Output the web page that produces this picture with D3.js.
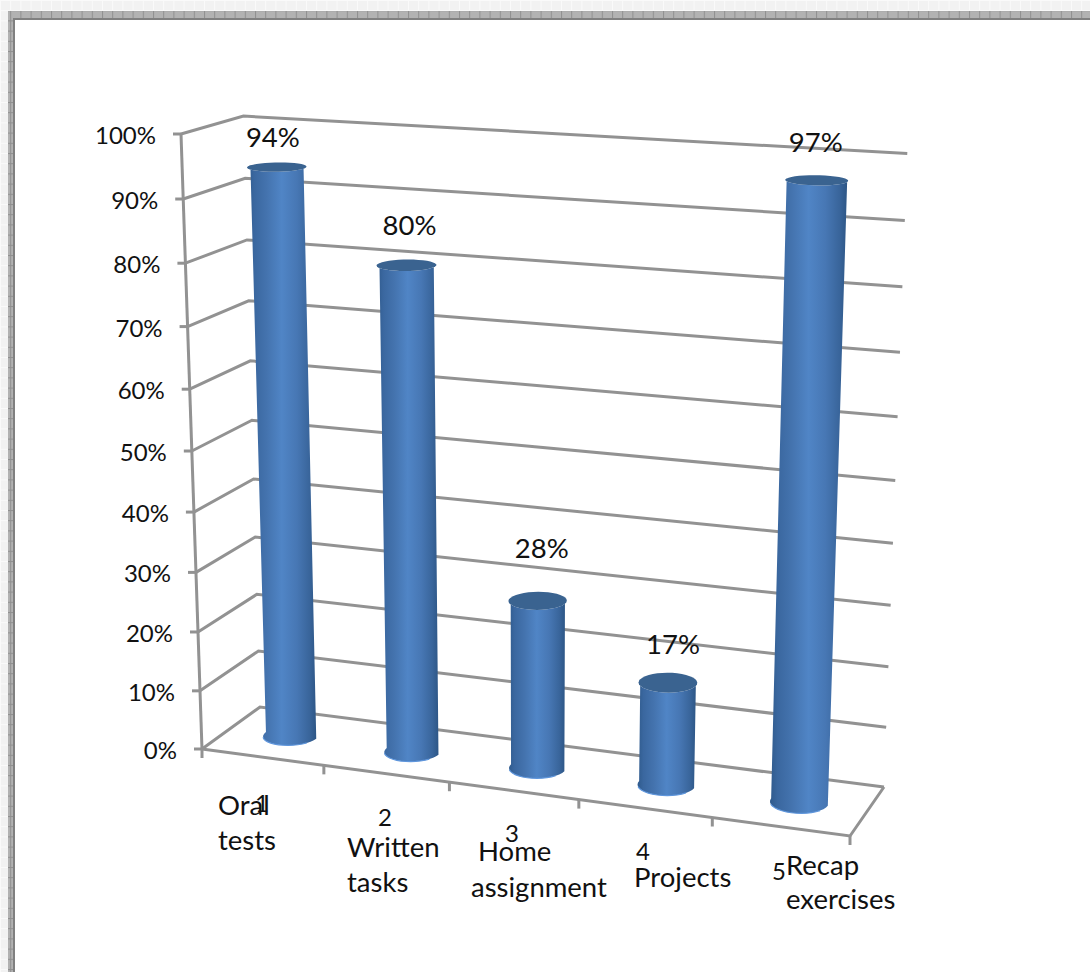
<!DOCTYPE html>
<html>
<head>
<meta charset="utf-8">
<script src="https://cdn.jsdelivr.net/npm/d3@7"></script>
<style>
  html, body { margin: 0; padding: 0; background: #fff; }
  svg { display: block; }
  text { font-family: Lato, "Open Sans", sans-serif; fill: #111; }
</style>
</head>
<body>
<div id="chart"></div>
<script>
const categoryNumbers = ["1", "2", "3", "4", "5"];
const seriesValues = [94, 80, 28, 17, 97];
const yTicks = [0, 10, 20, 30, 40, 50, 60, 70, 80, 90, 100];
const categoryNames = [["Oral", "tests"], ["Written", "tasks"], ["Home", "assignment"], ["Projects"], ["Recap", "exercises"]];

// hand placed text, these were loose text boxes in the original
const valueLabelOffsets = [[-4, -30], [3, -40], [4, -53], [5, -39], [-1, -38]];
const numberSpots = [[262, 812], [385, 826], [512, 842], [643, 860], [779, 880]];
const nameSpots = [
  [[218, 815], [218, 850]],
  [[347, 857], [347, 892]],
  [[478, 861], [471, 897]],
  [[634, 887]],
  [[786, 875], [786, 909]]
];

const width = 1090, height = 972;

const svg = d3.select("#chart").append("svg")
    .attr("width", width)
    .attr("height", height);

// frame around the page
const defs = svg.append("defs");
const hatch = defs.append("pattern")
    .attr("id", "hatch").attr("patternUnits", "userSpaceOnUse")
    .attr("width", 10.2).attr("height", 10.2);
hatch.append("rect").attr("width", 10.2).attr("height", 10.2).attr("fill", "#b2b2b2");
hatch.append("rect").attr("width", 1).attr("height", 10.2).attr("fill", "#909090");
hatch.append("rect").attr("width", 10.2).attr("height", 1).attr("fill", "#909090");

const paper = defs.append("pattern")
    .attr("id", "paper").attr("patternUnits", "userSpaceOnUse")
    .attr("width", 10.2).attr("height", 10.2);
paper.append("rect").attr("width", 10.2).attr("height", 10.2).attr("fill", "#f2f2f2");
paper.append("rect").attr("width", 1).attr("height", 10.2).attr("fill", "#fafafa");
paper.append("rect").attr("width", 10.2).attr("height", 1).attr("fill", "#fafafa");

svg.append("rect").attr("width", width).attr("height", height).attr("fill", "url(#paper)");
svg.append("rect").attr("x", 8).attr("y", 11).attr("width", width - 8).attr("height", 8).attr("fill", "url(#hatch)");
svg.append("rect").attr("x", 8).attr("y", 11).attr("width", 5).attr("height", height - 11).attr("fill", "url(#hatch)");
svg.append("rect").attr("x", 13).attr("y", 18).attr("width", width - 13).attr("height", 2).attr("fill", "#808080");
svg.append("rect").attr("x", 13).attr("y", 18).attr("width", 2).attr("height", height - 18).attr("fill", "#808080");
svg.append("rect").attr("x", 15).attr("y", 20).attr("width", width - 15).attr("height", height - 20).attr("fill", "#fff");

// scales work in the unit box, project() takes them to the page
const xScale = d3.scaleBand().domain(categoryNumbers).range([0, 1]);
const yScale = d3.scaleLinear().domain([0, 100]).range([0, 1]);

const front = { o: [202, 749], x: [850, 836], y: [260, 707], z: [181, 134] };
const persp = { p: -0.0735, q: 0.0425, r: -0.06 };

function project(u, v, w) {
  const d = 1 + persp.p * u + persp.q * v + persp.r * w;
  const coord = i =>
    (front.o[i]
      + (front.x[i] * (1 + persp.p) - front.o[i]) * u
      + (front.y[i] * (1 + persp.q) - front.o[i]) * v
      + (front.z[i] * (1 + persp.r) - front.o[i]) * w) / d;
  return [coord(0), coord(1)];
}

const gridColor = "#929292";
const line = d3.line();
const drawLine = (pts, w) => svg.append("path")
    .attr("d", line(pts))
    .attr("fill", "none")
    .attr("stroke", gridColor)
    .attr("stroke-width", w || 3);

// gridlines, side wall then back wall
yTicks.forEach(t => {
  const w = yScale(t);
  drawLine([project(0, 0, w), project(0, 1, w), project(1, 1, w)]);
  const a = project(0, 0, w);
  drawLine([[a[0] - 8, a[1]], a]);
  svg.append("text")
      .attr("x", a[0] - 25)
      .attr("y", a[1] + 10)
      .attr("text-anchor", "end")
      .attr("font-size", 24)
      .text(t + "%");
});

// axis lines
drawLine([project(0, 0, 0), project(0, 0, 1)]);
drawLine([project(0, 0, 0), project(1, 0, 0), project(1, 1, 0)]);
d3.range(0, 6).forEach(i => {
  const a = project(i / 5, 0, 0);
  drawLine([a, [a[0], a[1] + 9]]);
});

// cylinders
const radiusU = 0.042, radiusV = 0.22;
const bodyGrad = defs.append("linearGradient").attr("id", "body");
bodyGrad.selectAll("stop")
  .data([[0, "#2f5a8c"], [0.1, "#3a679f"], [0.28, "#4473ae"], [0.5, "#5085c6"], [0.72, "#4777b4"], [0.9, "#39659b"], [1, "#2d5686"]])
  .join("stop")
    .attr("offset", d => d[0])
    .attr("stop-color", d => d[1]);

const capAngles = d3.range(0, 361, 10).map(d => d * Math.PI / 180);

seriesValues.forEach((value, i) => {
  const cu = xScale(categoryNumbers[i]) + xScale.bandwidth() / 2;
  const ring = (a, w) => project(cu + radiusU * Math.cos(a), 0.5 - radiusV * Math.sin(a), w);
  const top = yScale(value);

  const frontHalf = capAngles.filter(a => a <= Math.PI + 1e-6);
  const outline = frontHalf.map(a => ring(a, 0))
    .concat(frontHalf.slice().reverse().map(a => ring(a, top)));

  svg.append("path")
      .attr("d", line(outline) + "Z")
      .attr("fill", "url(#body)");

  // light rim along the foot of the cylinder
  svg.append("path")
      .attr("d", line(frontHalf.slice(3, 16).map(a => ring(a, 0))))
      .attr("fill", "none")
      .attr("stroke", "#5f96dc")
      .attr("stroke-width", 1.2);

  svg.append("path")
      .attr("d", line(capAngles.map(a => ring(a, top))) + "Z")
      .attr("fill", "#3a6390");

  const head = project(cu, 0.5, top);
  svg.append("text")
      .attr("x", head[0] + valueLabelOffsets[i][0])
      .attr("y", head[1] + valueLabelOffsets[i][1] + 10)
      .attr("text-anchor", "middle")
      .attr("font-size", 27.5)
      .text(value + "%");
});

// numbers under the axis and the typed category names
categoryNumbers.forEach((n, i) => {
  svg.append("text")
      .attr("x", numberSpots[i][0])
      .attr("y", numberSpots[i][1])
      .attr("text-anchor", "middle")
      .attr("font-size", 24)
      .text(n);
  categoryNames[i].forEach((part, j) => {
    svg.append("text")
        .attr("x", nameSpots[i][j][0])
        .attr("y", nameSpots[i][j][1])
        .attr("font-size", 27.5)
        .text(part);
  });
});
</script>
</body>
</html>
